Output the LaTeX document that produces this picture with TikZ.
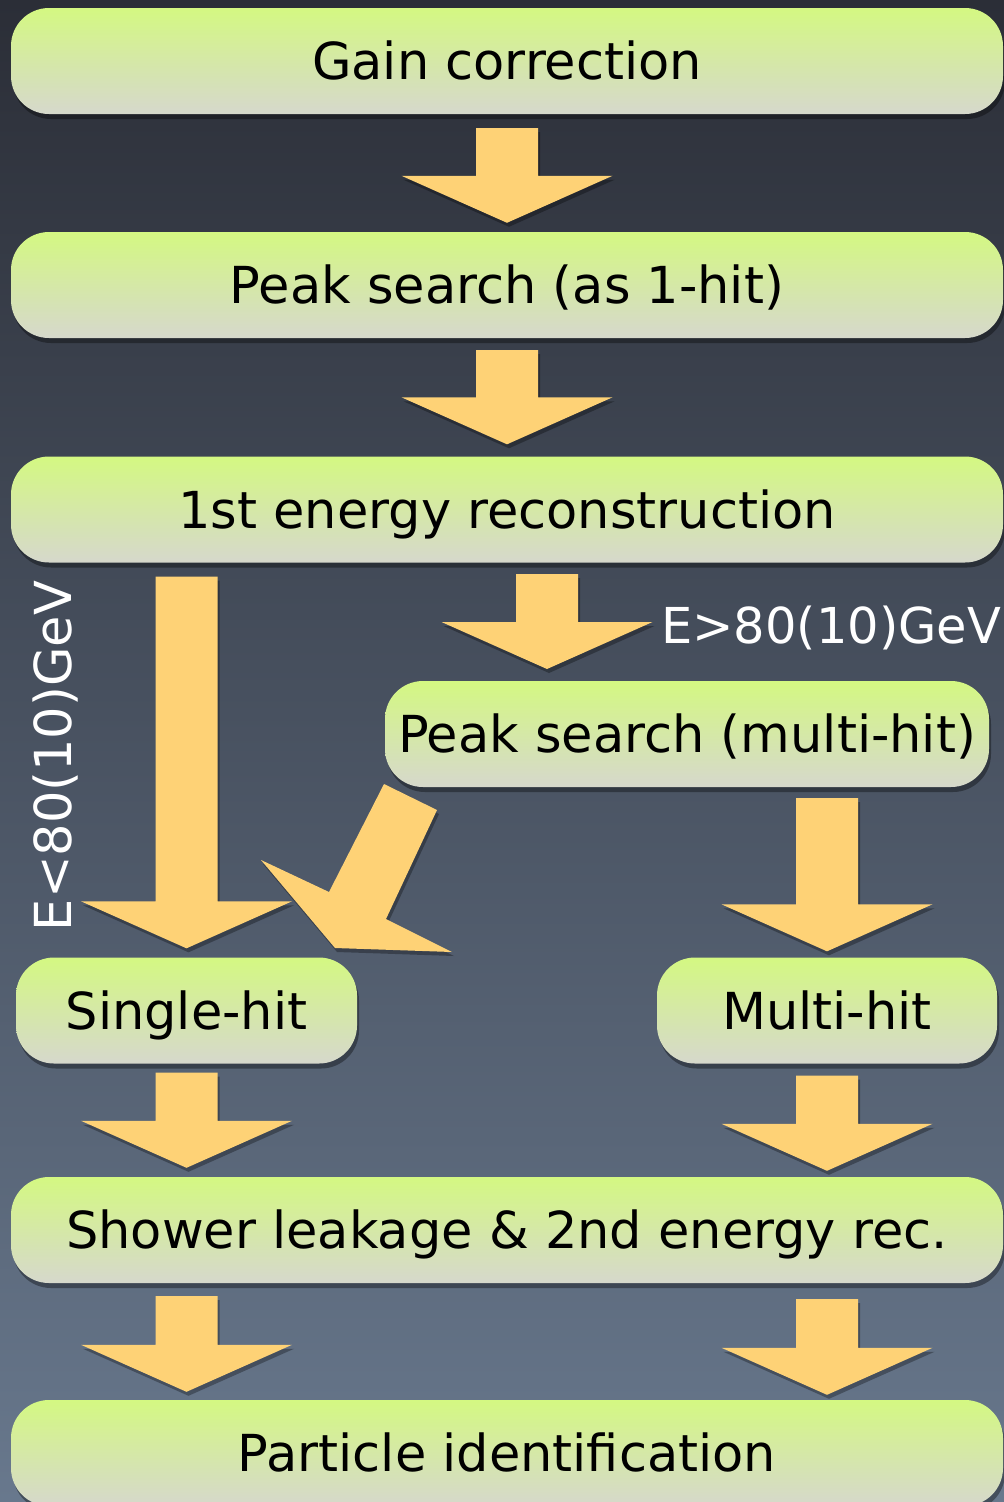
\documentclass[tikz,border=0pt]{standalone}
\usepackage{fontspec}
\setmainfont{DejaVu Sans}
\usetikzlibrary{calc,shadows}
\definecolor{arrowc}{RGB}{254,210,118}
\definecolor{boxtop}{RGB}{212,248,130}
\definecolor{boxbot}{RGB}{214,216,204}
\definecolor{bgtop}{RGB}{43,46,55}
\definecolor{bgbot}{RGB}{104,120,141}
\newcommand{\dnarrow}[2]{%
  \fill[arrowfill] let \p1=#1, \p2=#2 in
    (\x1-31pt,\y1) -- (\x1+31pt,\y1) -- (\x1+31pt,\y2+47pt) -- (\x1+105.5pt,\y2+47pt)
    -- (\x1,\y2) -- (\x1-105.5pt,\y2+47pt) -- (\x1-31pt,\y2+47pt) -- cycle;}
\tikzset{
  box/.style={rounded corners=38pt, top color=boxtop, bottom color=boxbot,
    inner sep=0pt, text height=37pt, text depth=0pt, text=black,
    font=\fontsize{51}{60}\selectfont,
    drop shadow={shadow xshift=2pt, shadow yshift=-5pt, opacity=0.35, fill=black}},
  arrowfill/.style={fill=arrowc,
    drop shadow={shadow xshift=2pt, shadow yshift=-4pt, opacity=0.3, fill=black}},
  lbl/.style={text=white, inner sep=0pt, font=\fontsize{51}{60}\selectfont},
}
\begin{document}
\begin{tikzpicture}[x=1pt,y=-1pt]
\useasboundingbox (0,0) rectangle (1004,1502);
\shade[top color=bgtop, bottom color=bgbot] (0,0) rectangle (1004,1502);

% boxes
\node[box, minimum width=992pt, minimum height=106pt] (gain) at (507,61) {Gain correction};
\node[box, minimum width=992pt, minimum height=106pt] (peak1) at (507,285) {Peak search (as 1-hit)};
\node[box, minimum width=992pt, minimum height=106pt] (e1) at (507,509.5) {1st energy reconstruction};
\node[box, minimum width=604pt, minimum height=106pt] (peakm) at (687,734) {Peak search (multi-hit)};
\node[box, minimum width=341pt, minimum height=106pt] (single) at (186.5,1010.5) {Single-hit};
\node[box, minimum width=340pt, minimum height=106pt] (multi) at (827,1010.5) {Multi-hit};
\node[box, minimum width=992pt, minimum height=106pt] (shower) at (507,1230) {Shower leakage \& 2nd energy rec.};
\node[box, minimum width=992pt, minimum height=106pt] (pid) at (507,1453) {Particle identification};

% coordinates for the branch arrow
\coordinate (mtop) at (547,574);
\coordinate (mtip) at (547,669);

% arrows
\dnarrow{($(gain.south)+(0,14)$)}{($(peak1.north)+(0,-9)$)}
\dnarrow{($(peak1.south)+(0,12)$)}{($(e1.north)+(0,-12)$)}
\dnarrow{($(e1.south -| single.north)+(0,14)$)}{($(single.north)+(0,-9)$)}
\dnarrow{(mtop)}{(mtip)}
\dnarrow{($(peakm.south -| multi.north)+(0,11)$)}{($(multi.north)+(0,-6)$)}
\dnarrow{($(single.south)+(0,9)$)}{($(shower.north -| single.south)+(0,-9)$)}
\dnarrow{($(multi.south)+(0,12)$)}{($(shower.north -| multi.south)+(0,-6)$)}
\dnarrow{($(shower.south -| single.south)+(0,13)$)}{($(pid.north -| single.south)+(0,-8)$)}
\dnarrow{($(shower.south -| multi.south)+(0,16)$)}{($(pid.north -| multi.south)+(0,-5)$)}

% diagonal arrow from multi-hit peak search to single-hit
\fill[arrowfill] (384,784) -- (437,810) -- (386,919) -- (452,952) -- (335,948)
  -- (261,860) -- (329,892) -- cycle;

% labels
\node[lbl, rotate=90, anchor=base] (lless) at (71,756) {E<80(10)GeV};
\node[lbl, anchor=base west, font=\fontsize{49.5}{58}\selectfont] (lmore) at (661,643) {E>80(10)GeV};
\end{tikzpicture}
\end{document}
